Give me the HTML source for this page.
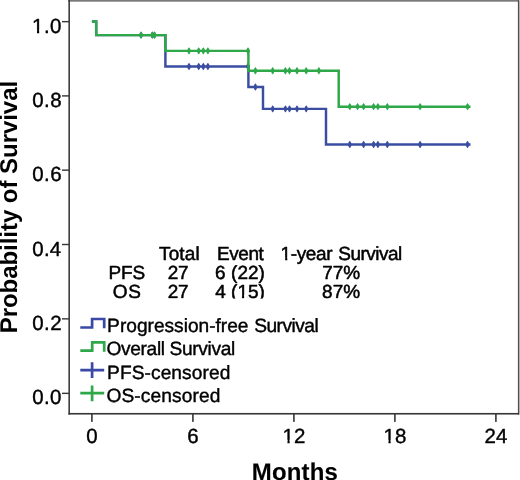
<!DOCTYPE html>
<html lang="en"><head><meta charset="utf-8"><title>Kaplan-Meier survival</title>
<style>
html,body{margin:0;padding:0;background:#fff;}
body{width:520px;height:480px;overflow:hidden;font-family:"Liberation Sans",Arial,sans-serif;}
svg{display:block;filter:blur(0.3px);}
text{font-family:"Liberation Sans",Arial,sans-serif;fill:#000;stroke:#000;stroke-linejoin:round;}
</style></head><body>
<svg width="520" height="480" viewBox="0 0 520 480">
<rect x="0" y="0" width="520" height="480" fill="#fff"/>
<rect x="68.3" y="0" width="451" height="1.7" fill="#7a7a7a"/>
<rect x="68.4" y="0" width="1.55" height="414.55" fill="#363636"/>
<rect x="519" y="1" width="1" height="413.6" fill="#b8b8b8"/>
<rect x="517.9" y="0" width="1.15" height="414.6" fill="#4c4c4c"/>
<rect x="68.4" y="412.95" width="450.6" height="1.6" fill="#363636"/>
<rect x="62" y="20.95" width="7" height="1.4" fill="#363636"/>
<rect x="62" y="95.20" width="7" height="1.4" fill="#363636"/>
<rect x="62" y="169.45" width="7" height="1.4" fill="#363636"/>
<rect x="62" y="243.80" width="7" height="1.4" fill="#363636"/>
<rect x="62" y="318.15" width="7" height="1.4" fill="#363636"/>
<rect x="62" y="392.65" width="7" height="1.4" fill="#363636"/>
<rect x="91.10" y="413" width="1.6" height="8.9" fill="#363636"/>
<text transform="translate(86.20,442.6) skewX(0.1)" font-size="20.5" stroke-width="0.4">0</text>
<rect x="192.10" y="413" width="1.6" height="8.9" fill="#363636"/>
<text transform="translate(187.20,442.6) skewX(0.1)" font-size="20.5" stroke-width="0.4">6</text>
<rect x="293.10" y="413" width="1.6" height="8.9" fill="#363636"/>
<text transform="translate(282.50,442.6) skewX(0.1)" font-size="20.5" stroke-width="0.4">12</text>
<rect x="282.86" y="439.87" width="4.60" height="4.33" fill="#fff"/><rect x="289.66" y="439.87" width="3.94" height="4.33" fill="#fff"/>
<rect x="394.10" y="413" width="1.6" height="8.9" fill="#363636"/>
<text transform="translate(383.50,442.6) skewX(0.1)" font-size="20.5" stroke-width="0.4">18</text>
<rect x="383.86" y="439.87" width="4.60" height="4.33" fill="#fff"/><rect x="390.66" y="439.87" width="3.94" height="4.33" fill="#fff"/>
<rect x="495.10" y="413" width="1.6" height="8.9" fill="#363636"/>
<text transform="translate(484.50,442.6) skewX(0.1)" font-size="20.5" stroke-width="0.4">24</text>
<text transform="translate(32.03,32.70) skewX(0.1)" font-size="20.5" letter-spacing="0.482" stroke-width="0.4">1.0</text>
<rect x="32.39" y="29.97" width="4.60" height="4.33" fill="#fff"/><rect x="39.19" y="29.97" width="3.94" height="4.33" fill="#fff"/>
<text transform="translate(32.20,106.95) skewX(0.1)" font-size="20.5" letter-spacing="0.437" stroke-width="0.4">0.8</text>
<text transform="translate(32.20,181.20) skewX(0.1)" font-size="20.5" letter-spacing="0.437" stroke-width="0.4">0.6</text>
<text transform="translate(32.20,255.55) skewX(0.1)" font-size="20.5" letter-spacing="0.277" stroke-width="0.4">0.4</text>
<text transform="translate(32.20,329.90) skewX(0.1)" font-size="20.5" letter-spacing="0.477" stroke-width="0.4">0.2</text>
<text transform="translate(32.20,404.40) skewX(0.1)" font-size="20.5" letter-spacing="0.397" stroke-width="0.4">0.0</text>
<text transform="translate(294.9,480.3) skewX(0.1)" font-size="24" font-weight="bold" text-anchor="middle" stroke-width="0.1" letter-spacing="0.13">Months</text>
<text transform="translate(17.1,207.1) rotate(-90) scale(1,1.01) skewX(0.1)" font-size="24" font-weight="bold" text-anchor="middle" style="stroke:none" letter-spacing="-0.04">Probability of Survival</text>
<path d="M91.90,21.40 L96.20,21.40 L96.20,35.10 L165.40,35.10 L165.40,66.55 L248.40,66.55 L248.40,86.95 L263.00,86.95 L263.00,108.85 L326.00,108.85 L326.00,144.45 L470.50,144.45" stroke="#3a4da1" stroke-width="2.45" fill="none" stroke-linejoin="miter"/>
<path d="M141.00,31.40L142.15,32.90L142.90,35.10L142.15,37.30L141.00,38.80L139.85,37.30L139.10,35.10L139.85,32.90Z M152.30,31.40L153.45,32.90L154.20,35.10L153.45,37.30L152.30,38.80L151.15,37.30L150.40,35.10L151.15,32.90Z M154.50,31.40L155.65,32.90L156.40,35.10L155.65,37.30L154.50,38.80L153.35,37.30L152.60,35.10L153.35,32.90Z M189.00,62.85L190.15,64.35L190.90,66.55L190.15,68.75L189.00,70.25L187.85,68.75L187.10,66.55L187.85,64.35Z M198.70,62.85L199.85,64.35L200.60,66.55L199.85,68.75L198.70,70.25L197.55,68.75L196.80,66.55L197.55,64.35Z M203.30,62.85L204.45,64.35L205.20,66.55L204.45,68.75L203.30,70.25L202.15,68.75L201.40,66.55L202.15,64.35Z M207.90,62.85L209.05,64.35L209.80,66.55L209.05,68.75L207.90,70.25L206.75,68.75L206.00,66.55L206.75,64.35Z M248.00,62.85L249.15,64.35L249.90,66.55L249.15,68.75L248.00,70.25L246.85,68.75L246.10,66.55L246.85,64.35Z M255.40,83.25L256.55,84.75L257.30,86.95L256.55,89.15L255.40,90.65L254.25,89.15L253.50,86.95L254.25,84.75Z M272.70,105.15L273.85,106.65L274.60,108.85L273.85,111.05L272.70,112.55L271.55,111.05L270.80,108.85L271.55,106.65Z M285.40,105.15L286.55,106.65L287.30,108.85L286.55,111.05L285.40,112.55L284.25,111.05L283.50,108.85L284.25,106.65Z M289.50,105.15L290.65,106.65L291.40,108.85L290.65,111.05L289.50,112.55L288.35,111.05L287.60,108.85L288.35,106.65Z M297.00,105.15L298.15,106.65L298.90,108.85L298.15,111.05L297.00,112.55L295.85,111.05L295.10,108.85L295.85,106.65Z M306.20,105.15L307.35,106.65L308.10,108.85L307.35,111.05L306.20,112.55L305.05,111.05L304.30,108.85L305.05,106.65Z M349.80,140.75L350.95,142.25L351.70,144.45L350.95,146.65L349.80,148.15L348.65,146.65L347.90,144.45L348.65,142.25Z M363.60,140.75L364.75,142.25L365.50,144.45L364.75,146.65L363.60,148.15L362.45,146.65L361.70,144.45L362.45,142.25Z M373.60,140.75L374.75,142.25L375.50,144.45L374.75,146.65L373.60,148.15L372.45,146.65L371.70,144.45L372.45,142.25Z M377.90,140.75L379.05,142.25L379.80,144.45L379.05,146.65L377.90,148.15L376.75,146.65L376.00,144.45L376.75,142.25Z M387.30,140.75L388.45,142.25L389.20,144.45L388.45,146.65L387.30,148.15L386.15,146.65L385.40,144.45L386.15,142.25Z M420.10,140.75L421.25,142.25L422.00,144.45L421.25,146.65L420.10,148.15L418.95,146.65L418.20,144.45L418.95,142.25Z M467.50,140.75L468.65,142.25L469.40,144.45L468.65,146.65L467.50,148.15L466.35,146.65L465.60,144.45L466.35,142.25Z" fill="#3a4da1" stroke="none"/>
<path d="M91.90,21.40 L96.20,21.40 L96.20,35.10 L165.40,35.10 L165.40,50.85 L248.40,50.85 L248.40,70.80 L338.70,70.80 L338.70,106.65 L470.50,106.65" stroke="#2fa849" stroke-width="2.45" fill="none" stroke-linejoin="miter"/>
<path d="M141.00,31.40L142.15,32.90L142.90,35.10L142.15,37.30L141.00,38.80L139.85,37.30L139.10,35.10L139.85,32.90Z M152.30,31.40L153.45,32.90L154.20,35.10L153.45,37.30L152.30,38.80L151.15,37.30L150.40,35.10L151.15,32.90Z M154.50,31.40L155.65,32.90L156.40,35.10L155.65,37.30L154.50,38.80L153.35,37.30L152.60,35.10L153.35,32.90Z M189.00,47.15L190.15,48.65L190.90,50.85L190.15,53.05L189.00,54.55L187.85,53.05L187.10,50.85L187.85,48.65Z M198.70,47.15L199.85,48.65L200.60,50.85L199.85,53.05L198.70,54.55L197.55,53.05L196.80,50.85L197.55,48.65Z M203.30,47.15L204.45,48.65L205.20,50.85L204.45,53.05L203.30,54.55L202.15,53.05L201.40,50.85L202.15,48.65Z M207.90,47.15L209.05,48.65L209.80,50.85L209.05,53.05L207.90,54.55L206.75,53.05L206.00,50.85L206.75,48.65Z M248.00,47.15L249.15,48.65L249.90,50.85L249.15,53.05L248.00,54.55L246.85,53.05L246.10,50.85L246.85,48.65Z M255.40,67.10L256.55,68.60L257.30,70.80L256.55,73.00L255.40,74.50L254.25,73.00L253.50,70.80L254.25,68.60Z M272.70,67.10L273.85,68.60L274.60,70.80L273.85,73.00L272.70,74.50L271.55,73.00L270.80,70.80L271.55,68.60Z M285.40,67.10L286.55,68.60L287.30,70.80L286.55,73.00L285.40,74.50L284.25,73.00L283.50,70.80L284.25,68.60Z M289.50,67.10L290.65,68.60L291.40,70.80L290.65,73.00L289.50,74.50L288.35,73.00L287.60,70.80L288.35,68.60Z M297.00,67.10L298.15,68.60L298.90,70.80L298.15,73.00L297.00,74.50L295.85,73.00L295.10,70.80L295.85,68.60Z M306.20,67.10L307.35,68.60L308.10,70.80L307.35,73.00L306.20,74.50L305.05,73.00L304.30,70.80L305.05,68.60Z M318.90,67.10L320.05,68.60L320.80,70.80L320.05,73.00L318.90,74.50L317.75,73.00L317.00,70.80L317.75,68.60Z M349.80,102.95L350.95,104.45L351.70,106.65L350.95,108.85L349.80,110.35L348.65,108.85L347.90,106.65L348.65,104.45Z M357.60,102.95L358.75,104.45L359.50,106.65L358.75,108.85L357.60,110.35L356.45,108.85L355.70,106.65L356.45,104.45Z M363.60,102.95L364.75,104.45L365.50,106.65L364.75,108.85L363.60,110.35L362.45,108.85L361.70,106.65L362.45,104.45Z M373.60,102.95L374.75,104.45L375.50,106.65L374.75,108.85L373.60,110.35L372.45,108.85L371.70,106.65L372.45,104.45Z M377.90,102.95L379.05,104.45L379.80,106.65L379.05,108.85L377.90,110.35L376.75,108.85L376.00,106.65L376.75,104.45Z M387.30,102.95L388.45,104.45L389.20,106.65L388.45,108.85L387.30,110.35L386.15,108.85L385.40,106.65L386.15,104.45Z M420.10,102.95L421.25,104.45L422.00,106.65L421.25,108.85L420.10,110.35L418.95,108.85L418.20,106.65L418.95,104.45Z M467.50,102.95L468.65,104.45L469.40,106.65L468.65,108.85L467.50,110.35L466.35,108.85L465.60,106.65L466.35,104.45Z" fill="#2fa849" stroke="none"/>
<text transform="translate(159.00,260.00) skewX(0.1)" font-size="19" letter-spacing="0.139" stroke-width="0.5">Total</text>
<text transform="translate(216.99,260.00) skewX(0.1)" font-size="19" letter-spacing="-0.427" stroke-width="0.5">Event</text>
<text transform="translate(0,260.00) skewX(0.1)" font-size="19" stroke-width="0.5"><tspan x="280.62" letter-spacing="-0.377">1-year</tspan> <tspan x="338.36" letter-spacing="-0.523">Survival</tspan></text>
<rect x="280.82" y="257.33" width="4.33" height="4.32" fill="#fff"/><rect x="287.32" y="257.33" width="3.68" height="4.32" fill="#fff"/>
<text transform="translate(108.39,278.60) skewX(0.1)" font-size="19" letter-spacing="-0.056" stroke-width="0.5">PFS</text>
<text transform="translate(167.69,278.60) skewX(0.1)" font-size="19" letter-spacing="-0.323" stroke-width="0.5">27</text>
<text transform="translate(215.09,278.60) skewX(0.1)" font-size="19" letter-spacing="0.040" stroke-width="0.5">6 (22)</text>
<text transform="translate(322.19,278.70) skewX(0.1)" font-size="19" letter-spacing="0.016" stroke-width="0.5">77%</text>
<text transform="translate(112.76,297.70) skewX(0.1)" font-size="19" letter-spacing="0.820" stroke-width="0.5">OS</text>
<text transform="translate(167.69,297.70) skewX(0.1)" font-size="19" letter-spacing="-0.323" stroke-width="0.5">27</text>
<text transform="translate(215.20,297.70) skewX(0.1)" font-size="19" letter-spacing="0.016" stroke-width="0.5">4 (15)</text>
<rect x="237.62" y="295.03" width="4.33" height="4.32" fill="#fff"/><rect x="244.12" y="295.03" width="3.68" height="4.32" fill="#fff"/>
<text transform="translate(322.03,297.80) skewX(0.1)" font-size="19" letter-spacing="0.092" stroke-width="0.5">87%</text>
<rect x="75" y="298.6" width="330" height="110" fill="#fff"/>
<path d="M80.3,327.5 H92.1 V319 H104.2 V328.3" stroke="#3a48a6" stroke-width="2.7" fill="none"/>
<path d="M80.3,350.7 H92.2 V342.4 H104.2 V351.8" stroke="#2fa849" stroke-width="2.7" fill="none"/>
<path d="M80.3,370.1 H104.2 M92.1,362.3 V378" stroke="#3a48a6" stroke-width="2.7" fill="none"/>
<path d="M80.3,393.2 H104.2 M92.1,385.4 V401.2" stroke="#2fa849" stroke-width="2.7" fill="none"/>
<text transform="translate(0,332.10) skewX(0.1)" font-size="19.2" stroke-width="0.4"><tspan x="107.12" letter-spacing="-0.027">Progression-free</tspan> <tspan x="254.20" letter-spacing="-0.536">Survival</tspan></text>
<text transform="translate(106.50,355.20) skewX(0.1)" font-size="19.2" letter-spacing="-0.373" stroke-width="0.4">Overall Survival</text>
<text transform="translate(107.03,378.70) skewX(0.1)" font-size="19.2" letter-spacing="0.061" stroke-width="0.4">PFS-censored</text>
<text transform="translate(106.40,401.80) skewX(0.1)" font-size="19.2" letter-spacing="0.110" stroke-width="0.4">OS-censored</text>
</svg>
</body></html>
